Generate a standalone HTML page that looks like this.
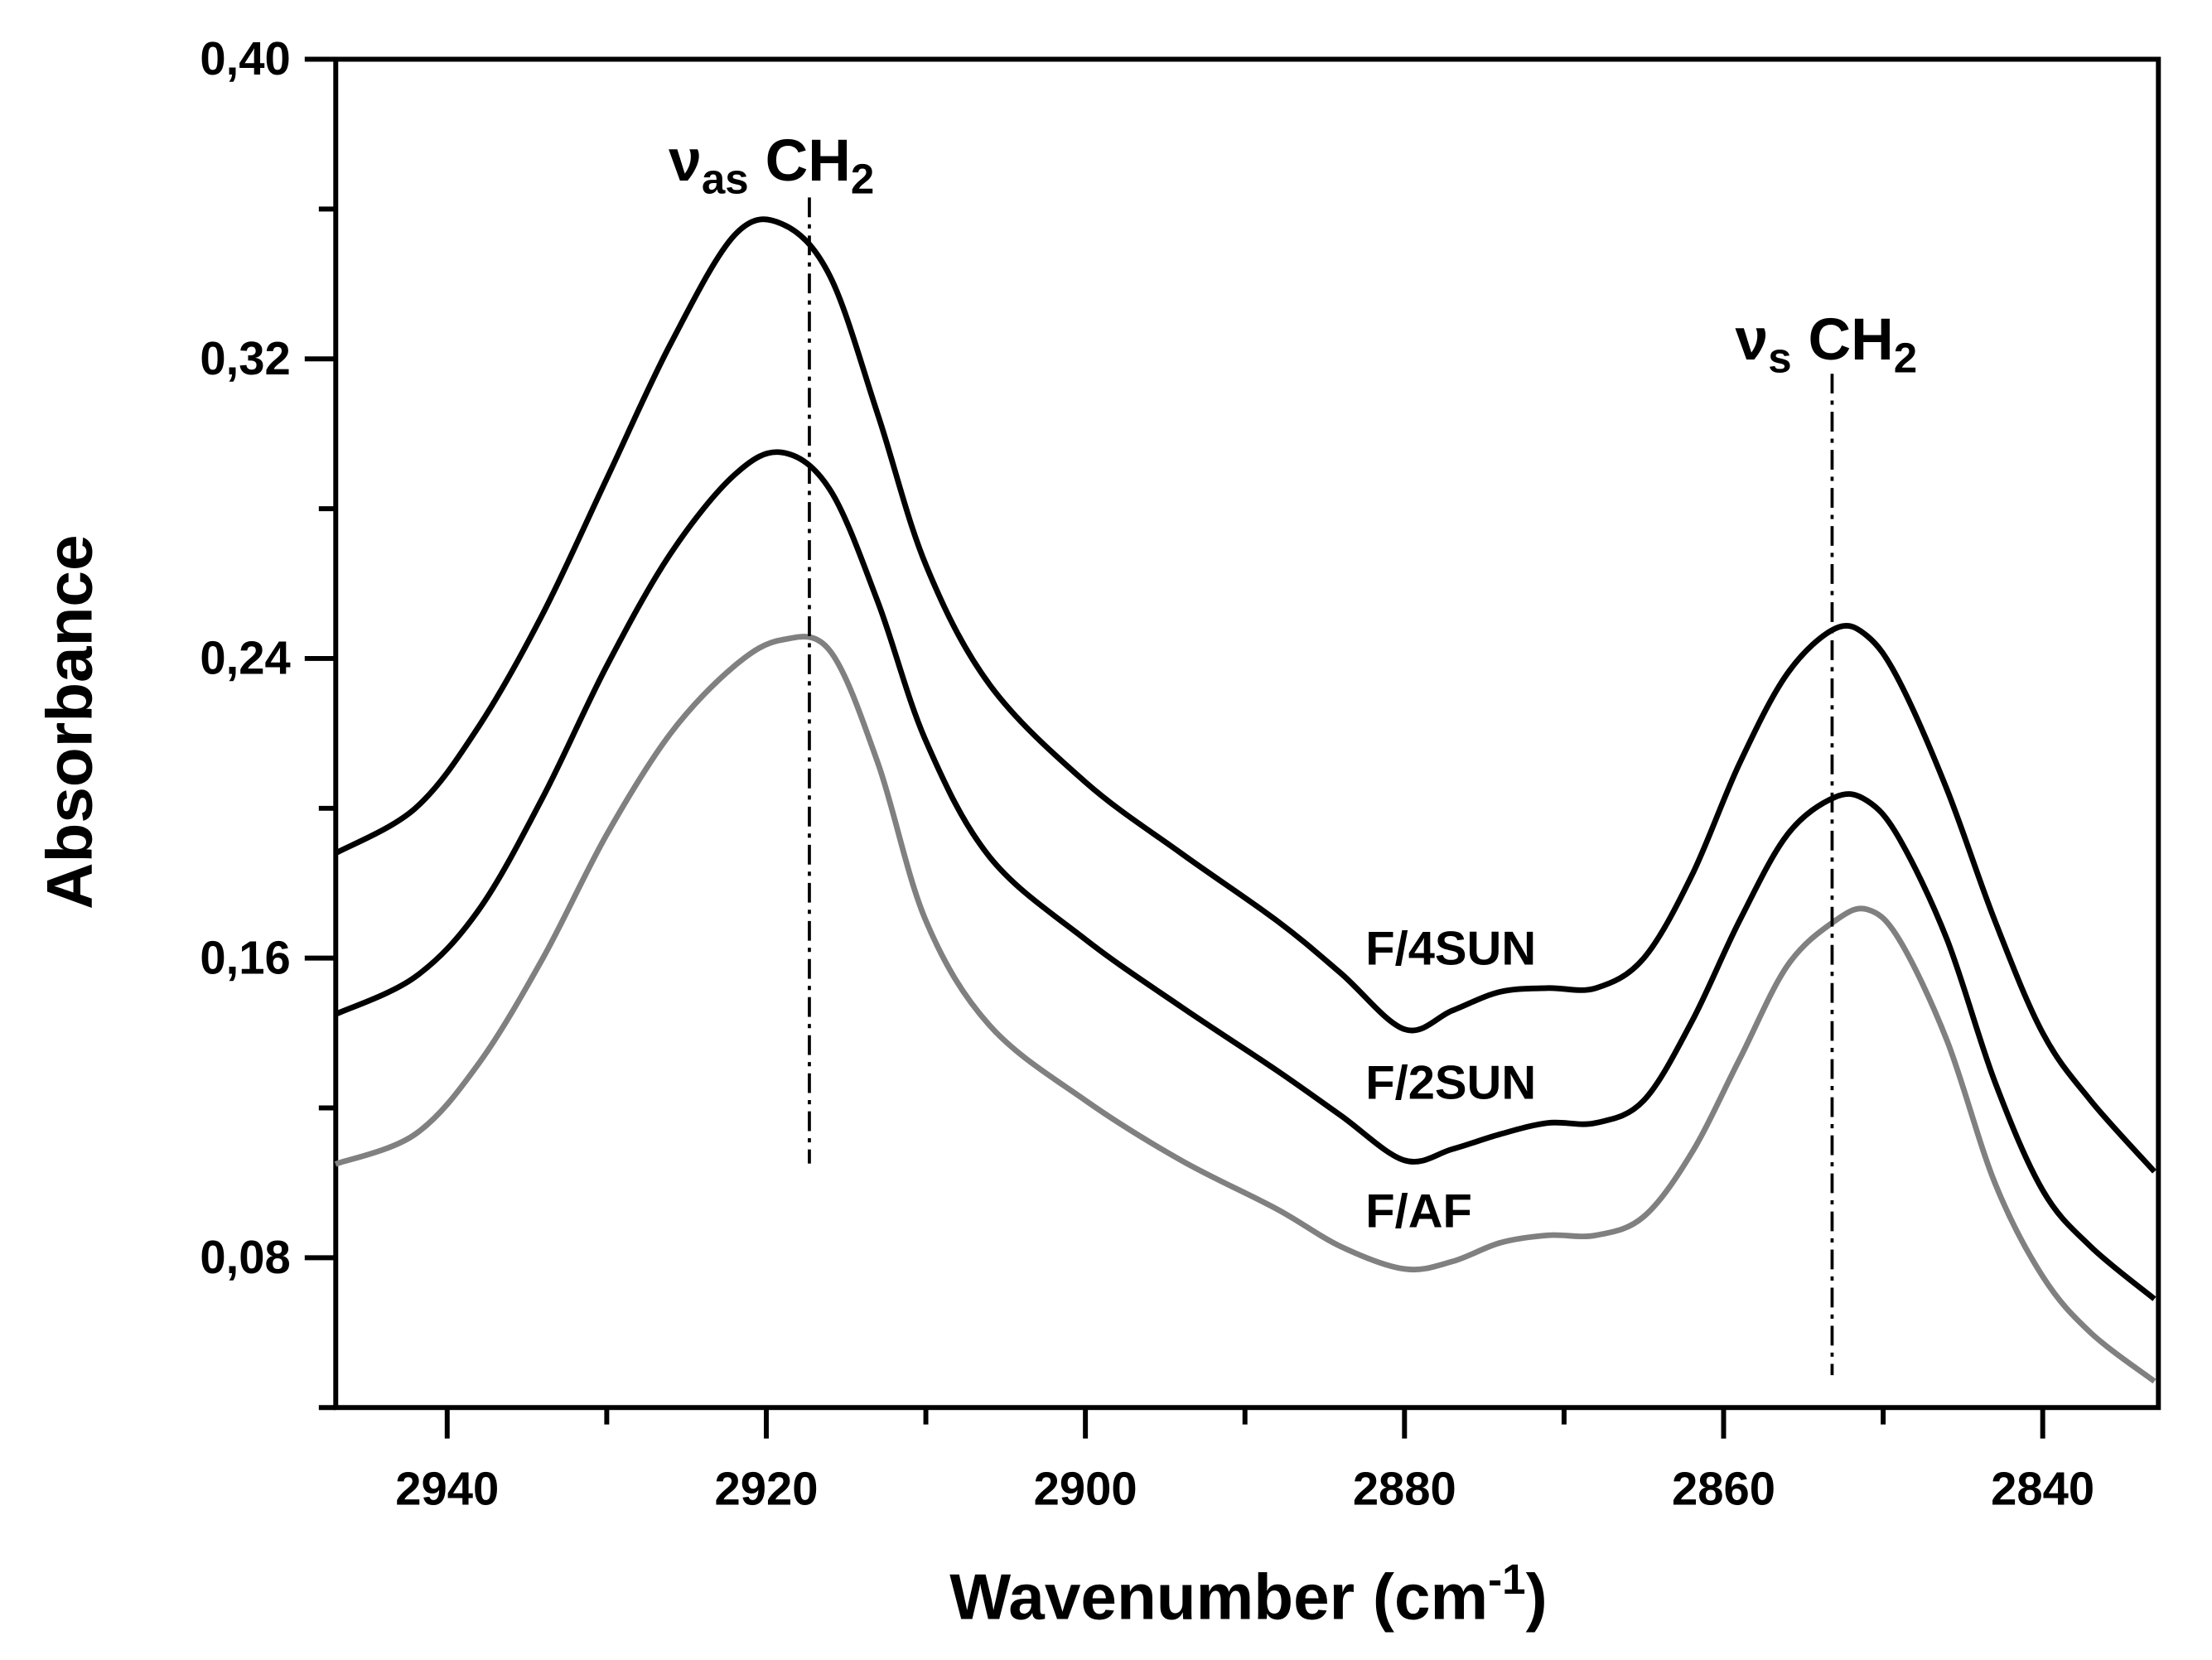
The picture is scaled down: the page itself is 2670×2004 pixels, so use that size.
<!DOCTYPE html>
<html><head><meta charset="utf-8"><style>
html,body{margin:0;padding:0;background:#fff;}
svg{display:block;font-family:"Liberation Sans",Arial,sans-serif;font-weight:bold;}
</style></head><body>
<svg id="chart" width="2670" height="2004" viewBox="0 0 1568 1177" preserveAspectRatio="none" xmlns="http://www.w3.org/2000/svg">
<rect x="0" y="0" width="1568" height="1177" fill="#fff"/>
<g id="plot"></g>
</svg>
<script>
const wavenumbers=[2947,2942,2938,2934,2930,2926,2922,2919,2916,2913,2910,2906,2900,2894,2888,2884,2880,2877,2874,2871,2868,2865,2862,2859,2856,2853,2851,2849,2846,2843,2840,2837,2833];
const f4sun=[0.188,0.200,0.222,0.252,0.288,0.324,0.353,0.356,0.342,0.305,0.265,0.233,0.207,0.188,0.170,0.156,0.141,0.146,0.151,0.152,0.152,0.160,0.182,0.212,0.236,0.248,0.246,0.234,0.205,0.170,0.140,0.122,0.103];
const f2sun=[0.145,0.155,0.173,0.203,0.238,0.268,0.289,0.295,0.285,0.255,0.218,0.187,0.165,0.147,0.130,0.118,0.106,0.109,0.113,0.116,0.116,0.122,0.143,0.170,0.193,0.203,0.202,0.192,0.165,0.127,0.098,0.083,0.069];
const faf=[0.105,0.113,0.132,0.160,0.193,0.220,0.238,0.245,0.242,0.212,0.170,0.142,0.122,0.106,0.093,0.083,0.077,0.079,0.084,0.086,0.086,0.091,0.108,0.133,0.158,0.170,0.173,0.165,0.138,0.100,0.075,0.060,0.047];
const xTicks=[2940,2920,2900,2880,2860,2840];
const xMinor=[2930,2910,2890,2870,2850];
const yTicks=[0.08,0.16,0.24,0.32,0.40];
const yTickLabels=["0,08","0,16","0,24","0,32","0,40"];
const yMinor=[0.04,0.12,0.20,0.28,0.36];
const markerLines=[2917.3,2853.2];

const L=238,R=1530,T=42,B=998;
const X=v=>317+(2940-v)*11.31;
const Y=v=>B-(v-0.04)/0.36*(B-T);
const NS="http://www.w3.org/2000/svg";
const g=document.getElementById('plot');
function mk(tag,attrs,parent){const e=document.createElementNS(NS,tag);for(const k in attrs)e.setAttribute(k,attrs[k]);(parent||g).appendChild(e);return e;}

const frame=mk('rect',{x:L,y:T,width:R-L,height:B-T,fill:'none',stroke:'#000','stroke-width':3.5});



xTicks.forEach((v,i)=>{
  const t=mk('line',{x1:X(v),x2:X(v),y1:B,y2:B+22,stroke:'#000','stroke-width':3.5});
  
  
  const l=mk('text',{x:X(v),y:1067,'text-anchor':'middle','font-size':33});
  l.textContent=v;
  
  
});
xMinor.forEach(v=>{
  const t=mk('line',{x1:X(v),x2:X(v),y1:B,y2:B+12,stroke:'#000','stroke-width':3.5});
  
  
});
yTicks.forEach((v,i)=>{
  const t=mk('line',{x1:L-22,x2:L,y1:Y(v),y2:Y(v),stroke:'#000','stroke-width':3.5});
  
  
  const l=mk('text',{x:206,y:Y(v)+11,'text-anchor':'end','font-size':33});
  l.textContent=yTickLabels[i];
  
  
});
yMinor.forEach(v=>{
  const t=mk('line',{x1:L-12,x2:L,y1:Y(v),y2:Y(v),stroke:'#000','stroke-width':3.5});
  
  
});

function pathFor(ys){
  const p=wavenumbers.map((w,i)=>[X(w),Y(ys[i])]);
  let d='M'+p[0][0]+','+p[0][1];
  for(let i=0;i<p.length-1;i++){
    const p0=p[i-1]||p[i],p1=p[i],p2=p[i+1],p3=p[i+2]||p2;
    const c1=[p1[0]+(p2[0]-p0[0])/6,p1[1]+(p2[1]-p0[1])/6];
    const c2=[p2[0]-(p3[0]-p1[0])/6,p2[1]-(p3[1]-p1[1])/6];
    d+=' C'+c1[0]+','+c1[1]+' '+c2[0]+','+c2[1]+' '+p2[0]+','+p2[1];
  }
  return d;
}
const s1=mk('path',{d:pathFor(faf),fill:'none',stroke:'#808080','stroke-width':4});


const s2=mk('path',{d:pathFor(f2sun),fill:'none',stroke:'#000','stroke-width':4});


const s3=mk('path',{d:pathFor(f4sun),fill:'none',stroke:'#000','stroke-width':4});



const ml1=mk('line',{x1:X(markerLines[0]),x2:X(markerLines[0]),y1:140,y2:825,stroke:'#000','stroke-width':2.2,'stroke-dasharray':'14,5,3,5'});


const ml2=mk('line',{x1:X(markerLines[1]),x2:X(markerLines[1]),y1:265,y2:975,stroke:'#000','stroke-width':2.2,'stroke-dasharray':'14,5,3,5'});


</script>
<svg style="position:absolute;left:0;top:0" width="2670" height="2004" viewBox="0 0 1568 1177" preserveAspectRatio="none" xmlns="http://www.w3.org/2000/svg">
<g font-family="Liberation Sans, Arial, sans-serif" font-weight="bold">
<text x="474" y="128" font-size="42">ν<tspan font-size="30" dy="9">as</tspan><tspan dy="-9"> CH</tspan><tspan font-size="30" dy="9">2</tspan></text>
<text x="1230" y="255" font-size="42">ν<tspan font-size="30" dy="9">s</tspan><tspan dy="-9"> CH</tspan><tspan font-size="30" dy="9">2</tspan></text>
<text x="968" y="684" font-size="34">F/4SUN</text>
<text x="968" y="779" font-size="34">F/2SUN</text>
<text x="968" y="870" font-size="34">F/AF</text>
<text x="885" y="1148" font-size="46" text-anchor="middle">Wavenumber (cm<tspan font-size="30" dy="-18">-1</tspan><tspan dy="18">)</tspan></text>
<text transform="translate(65,512) rotate(-90)" font-size="46" text-anchor="middle">Absorbance</text>
</g>
</svg>
</body></html>
